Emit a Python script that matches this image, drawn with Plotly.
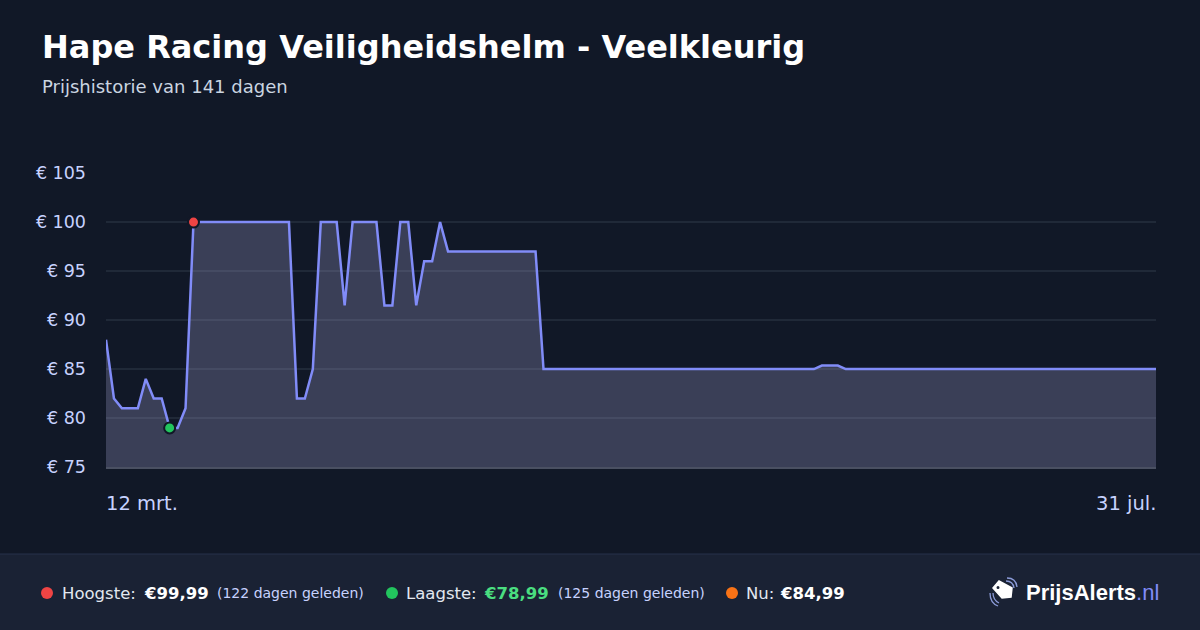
import plotly.graph_objects as go

prices = (
    [87.99, 81.99, 80.99, 80.99, 80.99, 83.99, 81.99, 81.99, 78.99, 78.99, 80.99]
    + [99.99] * 13
    + [81.99, 81.99, 84.99, 99.99, 99.99, 99.99, 91.49]
    + [99.99] * 4
    + [91.49, 91.49, 99.99, 99.99, 91.49, 95.99, 95.99, 99.99]
    + [96.99] * 12
    + [84.99] * 35
    + [85.35] * 3
    + [84.99] * 40
)
x_idx = list(range(len(prices)))
x_labels = ["12 mrt.", "31 jul."]
y_ticks = [75, 80, 85, 90, 95, 100, 105]
y_ticktext = ["€ %d" % v for v in y_ticks]

title = "Hape Racing Veiligheidshelm - Veelkleurig"
subtitle = "Prijshistorie van 141 dagen"

max_i = prices.index(max(prices))
min_i = prices.index(min(prices))

BG = "#111827"
FOOT = "#1a2234"
LINE = "#818cf8"
FONT = "DejaVu Sans"

# plot area in pixels
L, R, T, B = 106, 1156, 173, 467


def px(x):
    return (x - L) / (R - L)


def py(y):
    return (B - y) / (B - T)


fig = go.Figure()

fig.add_trace(go.Scatter(
    x=x_idx, y=prices,
    mode="lines",
    line=dict(color=LINE, width=2.5),
    fill="tozeroy",
    fillcolor="rgba(154,154,199,0.3)",
    showlegend=False,
    hoverinfo="skip",
))

# highest / lowest markers
fig.add_trace(go.Scatter(
    x=[max_i], y=[prices[max_i]], mode="markers",
    marker=dict(size=11, color="#ef4444", line=dict(color=BG, width=2)),
    showlegend=False, hoverinfo="skip",
))
fig.add_trace(go.Scatter(
    x=[min_i], y=[prices[min_i]], mode="markers",
    marker=dict(size=11, color="#22c55e", line=dict(color=BG, width=2)),
    showlegend=False, hoverinfo="skip",
))

shapes = [
    # footer band
    dict(type="rect", xref="paper", yref="paper", layer="below",
         x0=px(-10), x1=px(1210), y0=py(554), y1=py(640),
         fillcolor=FOOT, line=dict(width=0)),
    dict(type="line", xref="paper", yref="paper",
         x0=px(-10), x1=px(1210), y0=py(554), y1=py(554),
         line=dict(color="#27314a", width=1)),
]

# legend dots in footer
for cx, col in [(47, "#ef4444"), (392, "#22c55e"), (732, "#f97316")]:
    shapes.append(dict(type="circle", xref="paper", yref="paper",
                       x0=px(cx - 6), x1=px(cx + 6), y0=py(599), y1=py(587),
                       fillcolor=col, line=dict(width=0)))

# logo icon: tag + signal arcs
tag = "M {} {} L {} {} L {} {} L {} {} L {} {} Z".format(
    px(993), py(588), px(999), py(581), px(1012), py(588),
    px(1011), py(597), px(1002), py(598))
shapes.append(dict(type="path", xref="paper", yref="paper", path=tag,
                   fillcolor="white", line=dict(color="white", width=1.5)))
shapes.append(dict(type="circle", xref="paper", yref="paper",
                   x0=px(996.5), x1=px(999.5), y0=py(589), y1=py(586),
                   fillcolor=FOOT, line=dict(width=0)))
arcs = [
    ((993, 593), (993, 600), (999, 603)),
    ((990, 593), (990, 603), (998, 606)),
    ((1006, 581), (1013, 581), (1014, 588)),
    ((1007, 578), (1016, 578), (1017, 587)),
]
for p0, c, p1 in arcs:
    shapes.append(dict(
        type="path", xref="paper", yref="paper",
        path="M {} {} Q {} {} {} {}".format(px(p0[0]), py(p0[1]), px(c[0]), py(c[1]),
                                            px(p1[0]), py(p1[1])),
        line=dict(color="#8b9bd8", width=1.3)))

ann = []


def text(x, y, s, size, color, anchor="left", bold=False, family=FONT):
    ann.append(dict(
        xref="paper", yref="paper", x=px(x), y=py(y),
        xanchor=anchor, yanchor="middle", showarrow=False,
        text="<b>%s</b>" % s if bold else s,
        font=dict(family=family, size=size, color=color),
    ))


text(40, 47, title, 32, "#ffffff", bold=True)
text(40, 86, subtitle, 18, "#cbd5e1")
text(104, 503, x_labels[0], 19.5, "#c7d2fe")
text(1158, 503, x_labels[1], 19.5, "#c7d2fe", anchor="right")

text(60, 593, "Hoogste:", 16.5, "#e2e8f0")
text(142, 593, "€99,99", 16.5, "#ffffff", bold=True)
text(215, 593, "(122 dagen geleden)", 14, "#c7d2fe")
text(404, 593, "Laagste:", 16.5, "#e2e8f0")
text(482, 593, "€78,99", 16.5, "#4ade80", bold=True)
text(556, 593, "(125 dagen geleden)", 14, "#c7d2fe")
text(744, 593, "Nu:", 16.5, "#e2e8f0")
text(778, 593, "€84,99", 16.5, "#ffffff", bold=True)
text(1161, 592, "<b>PrijsAlerts</b><span style='color:#818cf8'>.nl</span>",
     22, "#ffffff", anchor="right", family="Liberation Sans")

fig.update_layout(
    width=1200, height=630,
    margin=dict(l=L, r=1200 - R, t=T, b=630 - B),
    paper_bgcolor=BG, plot_bgcolor=BG,
    font=dict(family=FONT),
    shapes=shapes, annotations=ann,
    xaxis=dict(range=[0, len(prices) - 1], showgrid=False, zeroline=False,
               showticklabels=False, showline=True, linecolor="#4a5062",
               linewidth=2, fixedrange=True),
    yaxis=dict(range=[75, 105], tickvals=y_ticks, ticktext=y_ticktext,
               showgrid=True, gridcolor="rgba(148,163,184,0.12)", gridwidth=1.5,
               zeroline=False, ticks="", ticklabelstandoff=19,
               tickfont=dict(family=FONT, size=17.5, color="#c7d2fe"),
               fixedrange=True),
)

fig.write_html(
    "out.html",
    config=dict(displayModeBar=False),
    post_script="document.body.style.margin='0';document.body.style.background='%s';" % BG,
)
